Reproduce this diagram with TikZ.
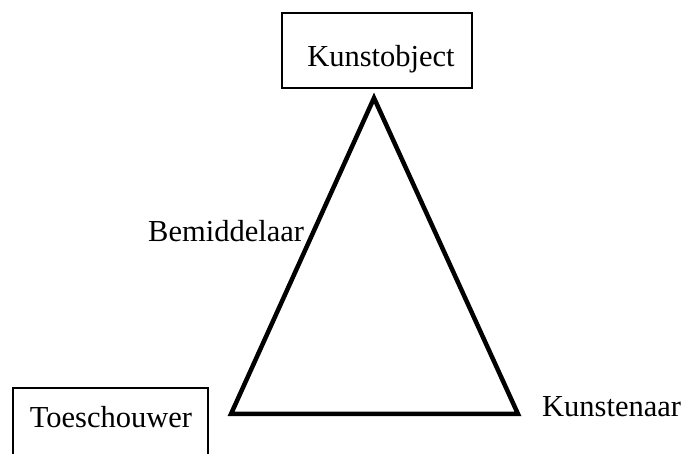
\documentclass[tikz,border=0pt]{standalone}
\usepackage{fontspec}
\setmainfont{Liberation Serif}
\begin{document}
\begin{tikzpicture}[x=1pt,y=-1pt,
  lbl/.style={anchor=base,inner sep=0pt,font=\fontsize{30.5}{36}\selectfont},
  boxed/.style={draw,line width=1.4pt,inner sep=0pt},
  tri/.style={line width=4.5pt,line join=miter}]
\useasboundingbox (0,0) rectangle (681,454);
\clip (0,0) rectangle (681,454);
\node[boxed,minimum width=190pt,minimum height=75pt] (kbox) at (377,50.5) {};
\node[lbl] (kunstobject) at (381,67) {Kunstobject};
\node[boxed,minimum width=195pt,minimum height=90pt] (tbox) at (110.5,433) {};
\node[lbl] (toeschouwer) at (111,428) {Toeschouwer};
\node[lbl,anchor=base west] (kunstenaar) at (542,417) {Kunstenaar};
\node[lbl,anchor=base west] (bemiddelaar) at (148,242) {Bemiddelaar};
\coordinate (apex) at (374,98);
\coordinate (bl) at (231,414);
\coordinate (br) at (518,414);
\draw[tri] (apex) -- (br) -- (bl) -- cycle;
\end{tikzpicture}
\end{document}
